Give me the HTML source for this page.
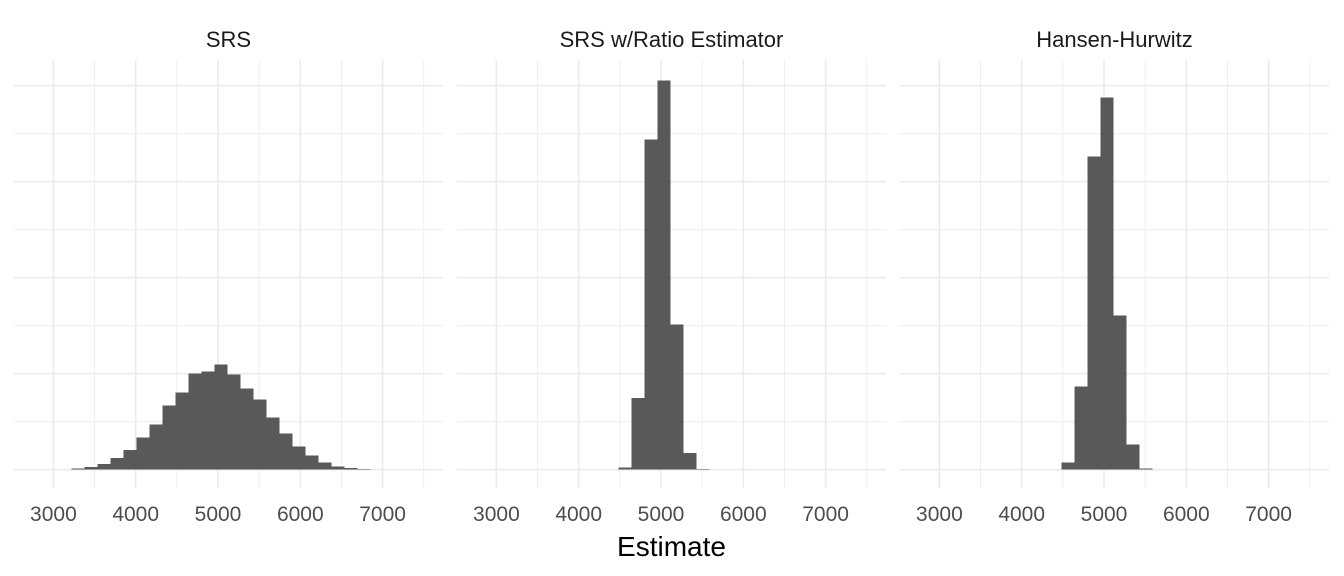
<!DOCTYPE html>
<html><head><meta charset="utf-8"><style>
html,body{margin:0;padding:0;background:#fff;}
svg{display:block;font-family:"Liberation Sans",Arial,sans-serif;}
</style></head><body>
<svg id="chart" width="1344" height="576" viewBox="0 0 1344 576" xmlns="http://www.w3.org/2000/svg"></svg>
<script>
const panelTitles = ["SRS", "SRS w/Ratio Estimator", "Hansen-Hurwitz"];
const xTicks = [3000, 4000, 5000, 6000, 7000];
const binStart = 3222;
const binWidth = 158;
const srsCounts = [14,28,59,122,205,337,472,670,805,1003,1024,1097,993,847,732,545,378,243,149,76,34,18,7];
const srsFirstBin = 0;
const ratioCounts = [24,747,3441,4055,1514,174,7];
const ratioFirstBin = 8;
const hhCounts = [76,868,3264,3878,1607,264,14];
const hhFirstBin = 8;
const yMajor = [0,1000,2000,3000,4000];
const yMinor = [500,1500,2500,3500];

const NS = "http://www.w3.org/2000/svg";
const svgEl = document.getElementById("chart");
function mk(tag, attrs, parent){const e=document.createElementNS(NS,tag);for(const k in attrs)e.setAttribute(k,attrs[k]);(parent||svgEl).appendChild(e);return e;}

const panelLeft = [14, 457, 900];
const panelW = 429, plotTop = 60, plotBottom = 488;
const pxPer = 0.0823, x5000 = 204;
const y0 = 469.7, yPer = 0.096;
function xs(p, v){return panelLeft[p] + x5000 + (v-5000)*pxPer;}
function ys(c){return y0 - c*yPer;}

const series = [[srsCounts,srsFirstBin],[ratioCounts,ratioFirstBin],[hhCounts,hhFirstBin]];
for(let p=0;p<3;p++){
  const g = mk("g",{});
  
  
  const L=panelLeft[p], R=L+panelW;
  yMinor.forEach(v=>{const l=mk("line",{x1:L,x2:R,y1:ys(v),y2:ys(v),stroke:"#ebebeb","stroke-width":0.8},g);});
  yMajor.forEach(v=>{const l=mk("line",{x1:L,x2:R,y1:ys(v),y2:ys(v),stroke:"#ebebeb","stroke-width":1.6},g);});
  xTicks.forEach(v=>{
    const m=mk("line",{x1:xs(p,v+500),x2:xs(p,v+500),y1:plotTop,y2:plotBottom,stroke:"#ebebeb","stroke-width":0.8},g);
    
    const l=mk("line",{x1:xs(p,v),x2:xs(p,v),y1:plotTop,y2:plotBottom,stroke:"#ebebeb","stroke-width":1.6},g);
    
    const t=mk("text",{x:xs(p,v),y:521,"text-anchor":"middle","font-size":21,fill:"#4d4d4d"},g);
    t.textContent=v;
    
  });
  const [counts, first] = series[p];
  counts.forEach((c,i)=>{
    const a=binStart+(first+i)*binWidth, b=a+binWidth;
    const r=mk("rect",{x:xs(p,a),y:ys(c),width:xs(p,b)-xs(p,a),height:y0-ys(c),fill:"#595959","shape-rendering":"crispEdges"},g);
    
  });
  const t=mk("text",{x:L+panelW/2,y:47,"text-anchor":"middle","font-size":22,fill:"#1a1a1a"},g);
  t.textContent=panelTitles[p];
  
}
const xt=mk("text",{x:671.5,y:556,"text-anchor":"middle","font-size":28,fill:"#000"});
xt.textContent="Estimate";


</script>
</body></html>
